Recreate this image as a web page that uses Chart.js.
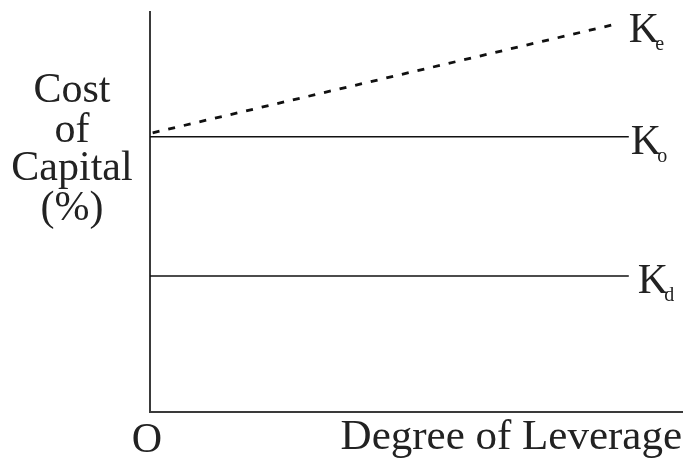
<!DOCTYPE html>
<html>
<head>
<meta charset="utf-8">
<title>Cost of Capital vs Degree of Leverage</title>
<script src="https://cdn.jsdelivr.net/npm/chart.js@4"></script>
<style>
  body { margin: 0; background: #fff; }
  canvas { display: block; }
</style>
</head>
<body>
<canvas id="leverageChart" width="687" height="463"></canvas>
<script>
// Chart values (axis units 0..10, no tick labels shown)
const keX = [0.05, 8.7];
const keY = [6.98, 9.68];
const koX = [0, 9];
const koY = [6.88, 6.88];
const kdX = [0, 9];
const kdY = [3.4, 3.4];

// Text
const seriesSubs = ['e', 'o', 'd'];
const yTitleLines = ['Cost', 'of', 'Capital', '(%)'];
const xTitle = 'Degree of Leverage';
const originLabel = 'O';

const serif = '"Liberation Serif", "DejaVu Serif", serif';
const ink = '#222';

function toPoints(xs, ys) {
    return xs.map((x, i) => ({ x: x, y: ys[i] }));
}

// Draws the K labels at the line ends plus the axis texts
const labelPlugin = {
    id: 'labels',
    afterDraw(chart) {
        const ctx = chart.ctx;
        const xs = chart.scales.x;
        const ys = chart.scales.y;
        const area = chart.chartArea;
        const ends = [
            [keX[1], keY[1], 16],
            [koX[1], koY[1], 2],
            [kdX[1], kdY[1], 9]
        ];

        ctx.save();
        ctx.fillStyle = ink;
        ctx.textBaseline = 'middle';
        ends.forEach((e, i) => {
            const px = xs.getPixelForValue(e[0]) + e[2];
            const py = ys.getPixelForValue(e[1]);
            ctx.font = '42px ' + serif;
            ctx.textAlign = 'left';
            ctx.fillText('K', px, py + 6);
            const kw = ctx.measureText('K').width;
            ctx.font = '20px ' + serif;
            ctx.fillText(seriesSubs[i], px + kw - 4, py + 20);
        });

        // y axis title, stacked lines
        ctx.font = '42px ' + serif;
        ctx.textAlign = 'center';
        ctx.textBaseline = 'alphabetic';
        const baselines = [102, 142, 180, 220];
        yTitleLines.forEach((line, i) => {
            ctx.fillText(line, 72, baselines[i]);
        });

        // origin and x axis title
        ctx.fillText(originLabel, area.left - 3, area.bottom + 40);
        ctx.textAlign = 'right';
        ctx.font = '43px ' + serif;
        ctx.fillText(xTitle, area.right, area.bottom + 37);
        ctx.restore();
    }
};

const axisStyle = {
    display: true,
    min: 0,
    max: 10,
    grid: { display: false },
    border: { display: true, color: '#3a3a3a', width: 2 },
    ticks: { display: false }
};

new Chart(document.getElementById('leverageChart'), {
    type: 'line',
    data: {
        datasets: [
            {
                label: 'Ke',
                data: toPoints(keX, keY),
                borderColor: '#111',
                borderWidth: 2.8,
                borderDash: [7, 9],
                pointRadius: 0
            },
            {
                label: 'Ko',
                data: toPoints(koX, koY),
                borderColor: '#111',
                borderWidth: 1.5,
                pointRadius: 0
            },
            {
                label: 'Kd',
                data: toPoints(kdX, kdY),
                borderColor: '#111',
                borderWidth: 1.5,
                pointRadius: 0
            }
        ]
    },
    options: {
        responsive: false,
        animation: false,
        layout: { padding: { left: 142, top: 12, right: 5, bottom: 43 } },
        plugins: {
            legend: { display: false },
            tooltip: { enabled: false }
        },
        scales: {
            x: Object.assign({ type: 'linear' }, axisStyle),
            y: Object.assign({ type: 'linear' }, axisStyle)
        }
    },
    plugins: [labelPlugin]
});
</script>
</body>
</html>
